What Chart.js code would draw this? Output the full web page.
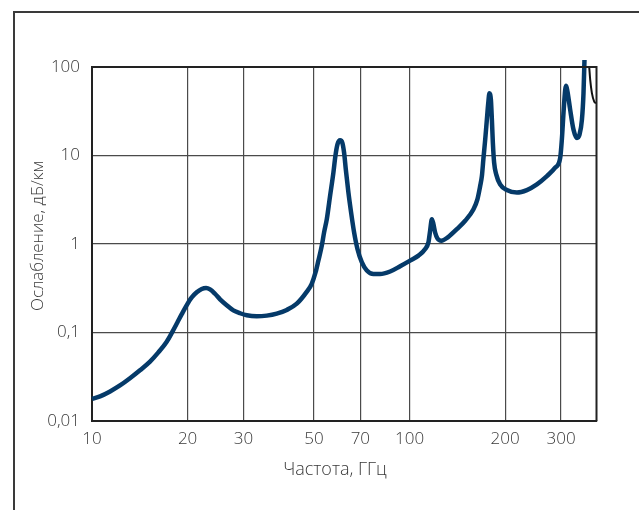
<!DOCTYPE html>
<html>
<head>
<meta charset="utf-8">
<script src="https://cdn.jsdelivr.net/npm/chart.js@4/dist/chart.umd.min.js"></script>
<style>
  html, body { margin: 0; padding: 0; background: #fff; }
  #wrap { width: 639px; height: 510px; position: relative; }
</style>
</head>
<body>
<div id="wrap"><canvas id="c" width="639" height="510"></canvas></div>
<script>
// ---- data ----
const freq = [
  10, 10.6, 11.4, 12.25, 13.17, 14.16, 15.23, 16.18, 17.19, 17.96, 18.57, 19.17, 19.88, 20.61, 21.37, 22.16,
  22.87, 23.54, 24.4, 25.31, 26.58, 27.87, 29.27, 30.72, 33.03, 35.51, 38.18, 41.06, 44.15, 47.5, 49.2,
  50.6, 51.64, 52.93, 53.82, 54.89, 56.2, 57.57, 58.4, 59.27, 60.43, 61.44, 62.23, 63.0, 64.2, 65.46,
  66.9, 68.55, 70.74, 73.37, 76.97, 80.8, 86.88, 93.4, 100.4, 106.7, 112, 114.7, 116.1, 117.6, 118.9,
  120.4, 122.4, 126, 132, 140.9, 149.7, 159, 163.6, 166.9, 169, 170.9, 173.1, 175.2, 176.9, 178.5,
  180.4, 181.7, 183, 184.7, 187.5, 192.9, 202.5, 217.8, 234.2, 251.8, 270.8, 287.5, 298.2, 301.8,
  305.4, 309.2, 311.4, 314.4, 320.6, 328.4, 336.6, 343, 349.1, 353.1, 355.6
];
const atten = [
  0.0178, 0.019, 0.0216, 0.0252, 0.0304, 0.0374, 0.0469, 0.0596, 0.0787, 0.1037, 0.1298, 0.161, 0.2037, 0.2488, 0.2844, 0.3105,
  0.3186, 0.307, 0.274, 0.237, 0.203, 0.178, 0.165, 0.1565, 0.1525, 0.1552, 0.1634, 0.18, 0.212, 0.29, 0.355,
  0.48, 0.65, 0.957, 1.353, 1.91, 3.49, 6.39, 9.82, 13.3, 14.86, 13.9, 10.7, 6.96, 3.81, 2.27,
  1.353, 0.879, 0.623, 0.501, 0.457, 0.457, 0.489, 0.561, 0.649, 0.739, 0.879, 1.045, 1.41, 1.91, 1.68,
  1.35, 1.159, 1.09, 1.19, 1.47, 1.83, 2.47, 3.2, 4.52, 5.85, 9.25, 15.1, 25.4, 38.4, 50.6,
  42.6, 25.4, 13.9, 8.28, 6.12, 4.72, 4.07, 3.81, 4.07, 4.72, 5.85, 7.28, 9.42, 15.1,
  30.2, 55.2, 61.2, 52.8, 32.9, 19.6, 15.8, 17.2, 25.4, 50.6, 120
];
const freqTail = [366, 368, 370.7, 375.3, 381.6, 387.3];
const attenTail = [120, 100, 71.4, 50.6, 40.7, 39.1];
const xTicks = [10, 20, 30, 50, 70, 100, 200, 300];
const yTicks = [0.01, 0.1, 1, 10, 100];
const yTickLabels = ['0,01', '0,1', '1', '10', '100'];
const xTitle = 'Частота, ГГц';
const yTitle = 'Ослабление, дБ/км';

const FONT = '"Open Sans", "DejaVu Sans", sans-serif';
const TEXT = '#383838';

const frame = {
  id: 'frame',
  beforeDraw(chart) {
    const ctx = chart.ctx;
    ctx.save();
    ctx.fillStyle = '#fff';
    ctx.fillRect(0, 0, chart.width, chart.height);
    ctx.strokeStyle = '#3a3a3a';
    ctx.lineWidth = 2;
    ctx.beginPath();
    ctx.moveTo(14, 520);
    ctx.lineTo(14, 12);
    ctx.lineTo(650, 12);
    ctx.stroke();
    ctx.restore();
  },
  afterDatasetsDraw(chart) {
    const a = chart.chartArea, ctx = chart.ctx;
    ctx.save();
    ctx.strokeStyle = '#222';
    ctx.lineWidth = 2;
    ctx.beginPath();
    ctx.moveTo(a.left, a.top);
    ctx.lineTo(a.right, a.top);
    ctx.lineTo(a.right, a.bottom);
    ctx.stroke();
    ctx.restore();
  },
  afterDraw(chart) {
    const ctx = chart.ctx;
    ctx.save();
    ctx.fillStyle = TEXT;
    ctx.textAlign = 'center';
    ctx.textBaseline = 'middle';
    ctx.font = '300 18px ' + FONT;
    ctx.fillText(xTitle, 335, 470);
    ctx.font = '300 17px ' + FONT;
    ctx.translate(38, 236);
    ctx.rotate(-Math.PI / 2);
    ctx.fillText(yTitle, 0, 0);
    ctx.restore();
  }
};

new Chart(document.getElementById('c'), {
  type: 'line',
  data: {
    datasets: [
      {
        data: freq.map((f, i) => ({ x: f, y: atten[i] })),
        borderColor: '#053a69',
        borderWidth: 4.5,
        pointRadius: 0,
        cubicInterpolationMode: 'monotone',
        fill: false,
        clip: { left: 4, top: 8, right: 0, bottom: 4 }
      },
      {
        data: freqTail.map((f, i) => ({ x: f, y: attenTail[i] })),
        borderColor: '#111',
        borderWidth: 2,
        pointRadius: 0,
        cubicInterpolationMode: 'monotone',
        fill: false,
        clip: 0
      }
    ]
  },
  options: {
    responsive: false,
    animation: false,
    devicePixelRatio: 1,
    layout: { padding: { left: 0, right: 42.5, top: 67, bottom: 0 } },
    plugins: { legend: { display: false }, tooltip: { enabled: false } },
    scales: {
      x: {
        type: 'logarithmic',
        min: 10,
        max: 388,
        afterBuildTicks: s => { s.ticks = xTicks.map(v => ({ value: v })); },
        afterFit: s => { s.height = 89; },
        ticks: {
          autoSkip: false,
          maxRotation: 0,
          padding: 8,
          color: TEXT,
          font: { family: FONT, size: 17, weight: 300 },
          callback: v => String(v)
        },
        grid: { color: '#4a4a4a', lineWidth: 1.2, drawTicks: false },
        border: { color: '#222', width: 2 }
      },
      y: {
        type: 'logarithmic',
        min: 0.01,
        max: 100,
        afterBuildTicks: s => { s.ticks = yTicks.map(v => ({ value: v })); },
        afterFit: s => { s.width = 92; },
        ticks: {
          autoSkip: false,
          padding: 12,
          color: TEXT,
          font: { family: FONT, size: 17, weight: 300 },
          callback: (v) => {
            const i = yTicks.findIndex(t => Math.abs(t - v) / t < 1e-6);
            return i >= 0 ? yTickLabels[i] : '';
          }
        },
        grid: { color: '#4a4a4a', lineWidth: 1.2, drawTicks: false },
        border: { color: '#222', width: 2 }
      }
    }
  },
  plugins: [frame]
});
</script>
</body>
</html>
